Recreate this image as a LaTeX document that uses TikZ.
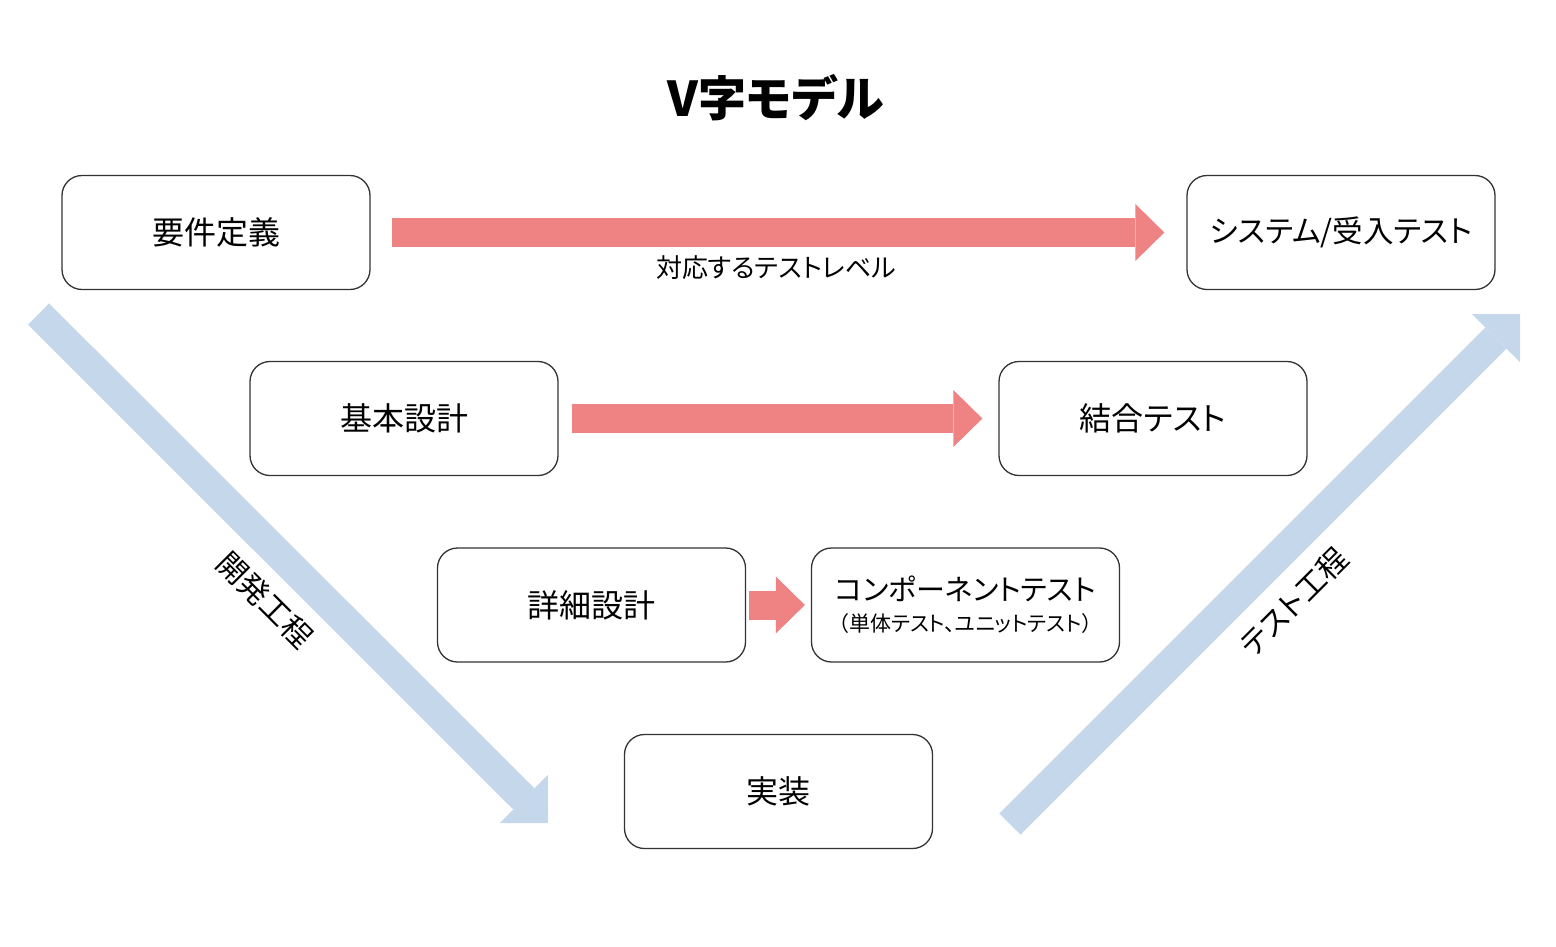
\documentclass[tikz,border=0pt]{standalone}
\usepackage{fontspec}
\setmainfont{Noto Sans CJK JP}[RawFeature=+palt]
\usetikzlibrary{arrows.meta}
\definecolor{levelpink}{RGB}{239,131,132}
\definecolor{flowblue}{RGB}{196,215,235}
\tikzset{
  phase/.style={draw=black!80, line width=1.3pt, rounded corners=20pt,
    minimum width=308pt, minimum height=114pt, fill=white,
    font=\fontsize{32}{38}\selectfont},
  levelarrow/.style={levelpink, line width=29pt,
    -{Triangle[length=29pt,width=57pt,line width=0pt]}},
  flowarrow/.style={flowblue, line width=30pt,
    -{Triangle[length=34pt,width=68pt,line width=0pt]}},
}
\begin{document}
\begin{tikzpicture}[x=1pt,y=-1pt]
  \useasboundingbox (0,0) rectangle (1556,946);
  % title
  \node[font=\fontsize{48}{54}\selectfont\bfseries] (title) at (776,98) {V字モデル};
  % process flow
  \coordinate (devstart) at (38.5,314);
  \coordinate (devend) at (548,823);
  \draw[flowarrow] (devstart) -- (devend);
  \coordinate (teststart) at (1010,824);
  \coordinate (testend) at (1520,314);
  \draw[flowarrow] (teststart) -- (testend);
  \node[font=\fontsize{30}{34}\selectfont, rotate=-45] (devlabel) at (265,600) {開発工程};
  \node[font=\fontsize{30}{34}\selectfont, rotate=45] (testlabel) at (1294,602) {テスト工程};
  % phases
  \node[phase] (req) at (216,232.5) {要件定義};
  \node[phase, font=\fontsize{30.5}{36}\selectfont] (sys) at (1341,232.5) {システム/受入テスト};
  \node[phase] (basic) at (404,418.5) {基本設計};
  \node[phase] (integ) at (1153,418.5) {結合テスト};
  \node[phase] (detail) at (591.5,605) {詳細設計};
  \node[phase, align=center, font=\fontsize{29}{34}\selectfont] (comp) at (965.5,605)
    {コンポーネントテスト\\[-3pt]{\fontsize{21}{25}\selectfont （単体テスト、ユニットテスト）}};
  \node[phase] (impl) at (778.5,791.5) {実装};
  % test levels
  \draw[levelarrow, shorten <=21pt, shorten >=22pt] (req) -- (sys);
  \node[font=\fontsize{26}{30}\selectfont] (levellabel) at (776,268) {対応するテストレベル};
  \draw[levelarrow, shorten <=13pt, shorten >=16pt] (basic) -- (integ);
  \draw[levelarrow, shorten <=3pt, shorten >=6pt] (detail) -- (comp);
\end{tikzpicture}
\end{document}
